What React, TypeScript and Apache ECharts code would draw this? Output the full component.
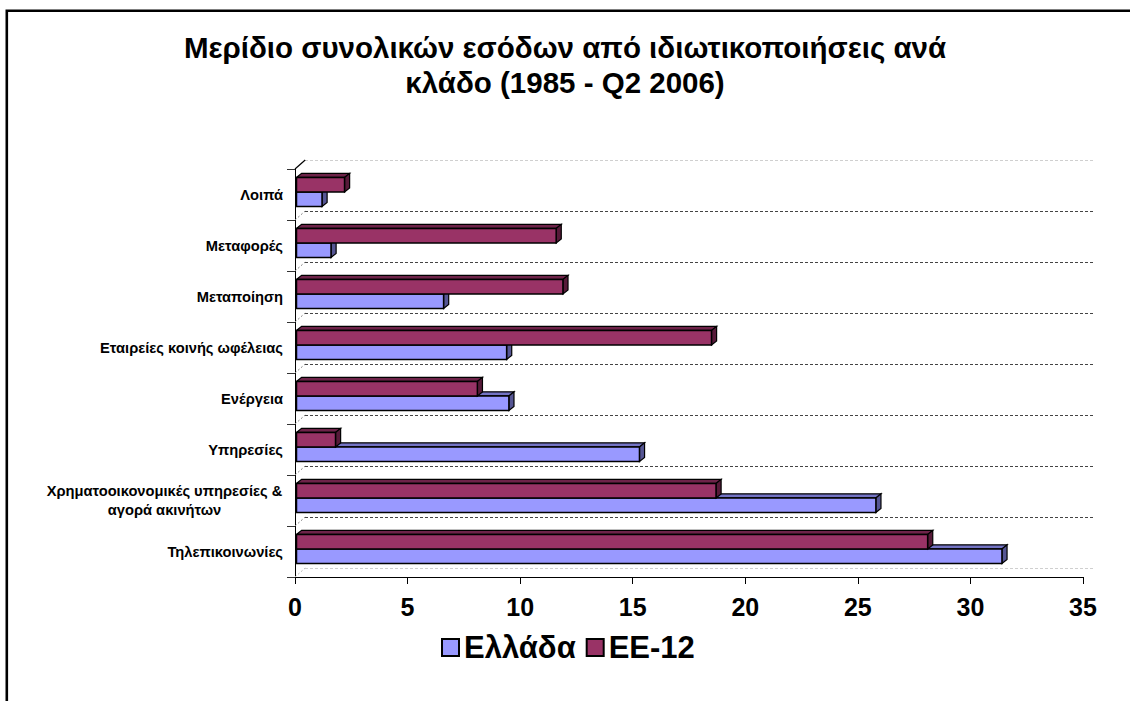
import React, { useEffect, useRef } from "react";
import * as echarts from "echarts";

const categories = [
  "Λοιπά",
  "Μεταφορές",
  "Μεταποίηση",
  "Εταιρείες κοινής ωφέλειας",
  "Ενέργεια",
  "Υπηρεσίες",
  "Χρηματοοικονομικές υπηρεσίες &\nαγορά ακινήτων",
  "Τηλεπικοινωνίες",
];
const greece = [1.2, 1.6, 6.6, 9.4, 9.5, 15.3, 25.8, 31.4];
const eu12 = [2.2, 11.6, 11.9, 18.5, 8.1, 1.8, 18.7, 28.1];
const seriesNames = ["Ελλάδα", "ΕΕ-12"];
const xMin = 0;
const xMax = 35;
const xInterval = 5;
const titleText = "Μερίδιο συνολικών εσόδων από ιδιωτικοποιήσεις ανά\nκλάδο (1985 - Q2 2006)";

const FONT = 'Arial, "Liberation Sans", sans-serif';
const Y_FONT_SIZE = 14.7;

function makeRender(front: string, top: string, side: string, upper: boolean) {
  return (params: any, api: any) => {
    const val = api.value(0);
    const cat = api.value(1);
    const s = api.coord([0, cat]);
    const e = api.coord([val, cat]);
    const band = api.size([0, 1])[1];
    const h = band * 0.284;
    const split = s[1] - band * 0.05;
    const y0 = upper ? split - h : split;
    const x0 = s[0] + 1.5;
    const x1 = e[0];
    const dx = band * 0.1;
    const dy = -band * 0.08;
    return {
      type: "group",
      children: [
        {
          type: "polygon",
          shape: { points: [[x0, y0], [x1, y0], [x1 + dx, y0 + dy], [x0 + dx, y0 + dy]] },
          style: { fill: top, stroke: "#000", lineWidth: 1.2 },
        },
        {
          type: "polygon",
          shape: { points: [[x1, y0], [x1 + dx, y0 + dy], [x1 + dx, y0 + dy + h], [x1, y0 + h]] },
          style: { fill: side, stroke: "#000", lineWidth: 1.2 },
        },
        {
          type: "rect",
          shape: { x: x0, y: y0, width: x1 - x0, height: h },
          style: { fill: front, stroke: "#000", lineWidth: 1.5 },
        },
      ],
    };
  };
}

function renderWall(params: any, api: any) {
  const cat = api.value(1);
  const c = api.coord([0, cat]);
  const band = api.size([0, 1])[1];
  const wdx = band * 0.2;
  const wdy = -band * 0.176;
  const yTop = c[1] - band / 2;
  const x = c[0];
  const children: any[] = [
    {
      type: "line",
      shape: { x1: x, y1: yTop, x2: x + wdx, y2: yTop + wdy },
      style: cat === 0
        ? { stroke: "#000", lineWidth: 1.2 }
        : { stroke: "#888", lineWidth: 1, lineDash: [2, 2] },
    },
  ];
  if (cat === categories.length - 1) {
    const yb = c[1] + band / 2;
    children.push({
      type: "line",
      shape: { x1: x, y1: yb, x2: x + wdx, y2: yb + wdy },
      style: { stroke: "#bbb", lineWidth: 1, lineDash: [2, 2] },
    });
  }
  return { type: "group", children };
}

function measure(text: string, size: number) {
  const cv = document.createElement("canvas");
  const ctx = cv.getContext("2d");
  if (!ctx) return text.length * size * 0.55;
  ctx.font = `bold ${size}px Arial, "Liberation Sans", sans-serif`;
  return ctx.measureText(text).width;
}

export default function App() {
  const ref = useRef<HTMLDivElement>(null);
  useEffect(() => {
    if (!ref.current) return;
    const chart = echarts.init(ref.current, null, { renderer: "svg" });
    const splitColors = ["#cfcfcf"];
    for (let i = 0; i < categories.length - 1; i++) splitColors.push("#444");
    splitColors.push("#cfcfcf");
    let multiW = 0;
    categories.forEach((c) => {
      if (c.indexOf("\n") >= 0) c.split("\n").forEach((l) => (multiW = Math.max(multiW, measure(l, Y_FONT_SIZE))));
    });
    chart.setOption({
      animation: false,
      backgroundColor: "#fff",
      title: {
        text: titleText,
        left: "center",
        top: 24.5,
        textStyle: { fontFamily: FONT, fontSize: 29.5, fontWeight: "bold", color: "#000", lineHeight: 35 },
      },
      legend: {
        data: seriesNames,
        left: 441,
        top: 632,
        padding: 0,
        itemWidth: 17,
        itemHeight: 17,
        itemGap: 10,
        icon: "rect",
        textStyle: { fontFamily: FONT, fontSize: 31, fontWeight: "bold", color: "#000" },
      },
      grid: [
        { left: 295, right: 47, top: 169, bottom: 124 },
        { left: 305, right: 37, top: 160, bottom: 133 },
      ],
      xAxis: [
        {
          type: "value",
          gridIndex: 0,
          min: xMin,
          max: xMax,
          interval: xInterval,
          axisLine: { show: true, lineStyle: { color: "#000", width: 1 } },
          axisTick: { show: true, length: 7, lineStyle: { color: "#000" } },
          splitLine: { show: false },
          axisLabel: { fontFamily: FONT, fontSize: 25, fontWeight: "bold", color: "#000", margin: 17 },
        },
        {
          type: "value",
          gridIndex: 1,
          min: xMin,
          max: xMax,
          show: false,
          splitLine: { show: false },
        },
      ],
      yAxis: [
        {
          type: "category",
          gridIndex: 0,
          data: categories,
          inverse: true,
          axisLine: { show: true, lineStyle: { color: "#000", width: 1 } },
          axisTick: { show: true, length: 8, lineStyle: { color: "#333" } },
          splitLine: { show: false },
          axisLabel: {
            fontFamily: FONT,
            fontSize: Y_FONT_SIZE,
            fontWeight: "bold",
            color: "#000",
            margin: 12,
            lineHeight: 19,
            formatter: (v: string) => (v.indexOf("\n") >= 0 ? v.split("\n").map((l) => `{c|${l}}`).join("\n") : v),
            rich: {
              c: {
                width: Math.ceil(multiW) + 1,
                align: "center",
                fontFamily: FONT,
                fontSize: Y_FONT_SIZE,
                fontWeight: "bold",
                color: "#000",
                lineHeight: 19,
              },
            },
          },
        },
        {
          type: "category",
          gridIndex: 1,
          data: categories,
          inverse: true,
          axisLine: { show: false },
          axisTick: { show: false },
          axisLabel: { show: false },
          splitLine: { show: true, lineStyle: { color: splitColors, type: [3, 2], width: 1.2 } },
        },
      ],
      series: [
        {
          name: seriesNames[0],
          type: "custom",
          xAxisIndex: 0,
          yAxisIndex: 0,
          itemStyle: { color: "#9999FF", borderColor: "#000", borderWidth: 1 },
          renderItem: makeRender("#9999FF", "#7373c4", "#565694", false),
          encode: { x: 0, y: 1 },
          data: greece.map((v, i) => [v, i]),
          z: 3,
        },
        {
          name: seriesNames[1],
          type: "custom",
          xAxisIndex: 0,
          yAxisIndex: 0,
          itemStyle: { color: "#993366", borderColor: "#000", borderWidth: 1 },
          renderItem: makeRender("#993366", "#6e2349", "#571a39", true),
          encode: { x: 0, y: 1 },
          data: eu12.map((v, i) => [v, i]),
          z: 4,
        },
        {
          name: "wall",
          type: "custom",
          xAxisIndex: 0,
          yAxisIndex: 0,
          silent: true,
          renderItem: renderWall,
          encode: { x: 0, y: 1 },
          data: categories.map((_, i) => [0, i]),
          z: 2,
        },
      ],
      graphic: [
        {
          type: "rect",
          shape: { x: 6.8, y: 10.8, width: 1200, height: 800 },
          style: { fill: "none", stroke: "#000", lineWidth: 2.6 },
          silent: true,
          z: 100,
        },
      ],
    });
    return () => chart.dispose();
  }, []);
  return (
    <div
      ref={ref}
      style={{ position: "fixed", left: 0, top: 0, width: 1130, height: 701, background: "#fff" }}
    />
  );
}
